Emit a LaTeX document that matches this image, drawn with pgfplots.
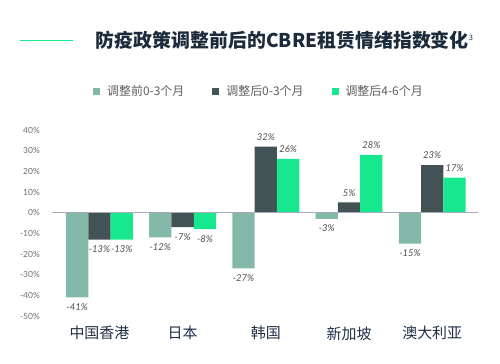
\documentclass[border=0pt]{standalone}
\usepackage{pgfplots}
\pgfplotsset{compat=1.18}
\usepackage{fontspec}
\setmainfont{Lato}
\newfontfamily\cjk{Noto Sans CJK SC}
\definecolor{celadon}{HTML}{84B9AA}
\definecolor{darkg}{HTML}{435254}
\definecolor{accent}{HTML}{17E88F}
\definecolor{titlec}{HTML}{1B2B3B}
\definecolor{catc}{HTML}{1F3044}
\definecolor{tickc}{HTML}{6E6E6E}
\definecolor{labc}{HTML}{4D4D4D}
\definecolor{legc}{HTML}{5E5E5E}
\definecolor{zeroc}{HTML}{A5ABBA}
\begin{document}
\begin{tikzpicture}
\path[use as bounding box] (0,0) rectangle (500bp,364bp);
\draw[accent, line width=1.2bp] (20bp,323.3bp) -- (72.7bp,323.3bp);
\node[anchor=west, inner sep=0pt, text=titlec, font=\cjk\bfseries\fontsize{19}{22}\selectfont] at (95.7bp,323.3bp) {防疫政策调整前后的CBRE租赁情绪指数变化\raisebox{7bp}{\mdseries\fontsize{7.5}{8}\selectfont 3}};
\begin{axis}[
  at={(52bp,48bp)}, anchor=south west, scale only axis,
  width=426bp, height=186bp,
  xmin=-0.57, xmax=4.55, ymin=-50, ymax=40,
  ybar=0pt, bar width=22.3bp,
  axis line style={draw=none}, major tick length=0pt,
  xtick={0,...,4}, xticklabels={中国香港,日本,韩国,新加坡,澳大利亚},
  xticklabel style={font=\cjk\fontsize{15}{18}\selectfont, text=catc, anchor=center, yshift=-17.3bp},
  ytick={-50,-40,...,40},
  yticklabel={\pgfmathprintnumber{\tick}\%},
  yticklabel style={font=\fontsize{8.5}{10}\selectfont, text=tickc, anchor=east, inner sep=0pt, xshift=-12bp},
  /pgf/number format/assume math mode=true,
  nodes near coords={\pgfmathprintnumber{\pgfplotspointmeta}\%},
  nodes near coords style={font=\itshape\fontsize{9.5}{11}\selectfont, text=labc, inner ysep=6bp, inner xsep=0pt},
  legend style={at={(0.0962,1.206)}, anchor=west, draw=none, fill=none, inner sep=0pt,
    font=\cjk\fontsize{12}{14}\selectfont, text=legc,
    /tikz/every even column/.append style={column sep=26bp}},
  legend image code/.code={\fill[#1] (0bp,-3.5bp) rectangle (7bp,3.5bp); \path (12bp,0bp);},
  legend columns=3,
  clip=false,
]
\addplot[fill=celadon, draw=none] coordinates {(0,-41) (1,-12) (2,-27) (3,-3) (4,-15)};
\addplot[fill=darkg, draw=none] coordinates {(0,-13) (1,-7) (2,32) (3,5) (4,23)};
\addplot[fill=accent, draw=none] coordinates {(0,-13) (1,-8) (2,26) (3,28) (4,17)};
\legend{调整前0-3个月,调整后0-3个月,调整后4-6个月}
\draw[zeroc, line width=1bp] (axis cs:-0.57,0) -- (axis cs:4.55,0);
\end{axis}
\end{tikzpicture}
\end{document}
